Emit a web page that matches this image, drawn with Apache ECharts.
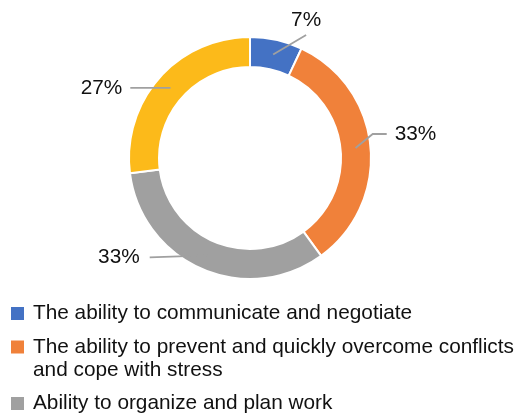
<!DOCTYPE html>
<html>
<head>
<meta charset="utf-8">
<script src="https://cdn.jsdelivr.net/npm/echarts@6/dist/echarts.min.js"></script>
<style>
html,body{margin:0;padding:0;background:#fff;}
#chart{width:518px;height:415px;}
</style>
</head>
<body>
<div id="chart"></div>
<script>
// ---- data ----
const categories = [
  'The ability to communicate and negotiate',
  'The ability to prevent and quickly overcome conflicts and cope with stress',
  'Ability to organize and plan work',
  'Other'
];
const values = [7, 33, 33, 27];
const legendNames = categories.slice(0, 3); // 4th legend entry is cropped out of view

// ---- style ----
const colors = ['#4472C4', '#F0813A', '#A0A0A0', '#FCBA1A'];
// label placement: offset from the slice anchor (mid-angle, mid-ring) to the label centre
const labelVec = [[33, -34], [60, -14], [-89, 2], [-69, 0]];
const FONT = 'Liberation Sans, Arial, sans-serif';
const FS = 20.8;
const LH = 23;

function wrap(text, maxChars) {
  const words = text.split(' ');
  const lines = [];
  let cur = '';
  words.forEach(w => {
    const t = cur ? cur + ' ' + w : w;
    if (t.length > maxChars && cur) { lines.push(cur); cur = w; } else { cur = t; }
  });
  if (cur) lines.push(cur);
  return lines;
}

const rich = {
  g: { width: 9, lineHeight: LH },
  s: { width: 22, lineHeight: LH },
  t: { fontSize: FS, fontFamily: FONT, color: '#111', lineHeight: LH }
};
colors.forEach((c, i) => {
  rich['m' + i] = { width: 13, height: 13, backgroundColor: c, lineHeight: LH };
});

function layoutLabel(p) {
  const i = p.dataIndex;
  const a = p.labelLinePoints[0];
  const w = p.labelRect.width, h = p.labelRect.height;
  const cx = a[0] + labelVec[i][0], cy = a[1] + labelVec[i][1];
  let pts;
  if (i === 0) {
    pts = [a, [cx, cy + h / 2 + 4]];
  } else if (i === 1) {
    const ex = cx - w / 2 - 8;
    pts = [a, [ex - 14, cy], [ex, cy]];
  } else {
    const ex = cx + w / 2 + (i === 2 ? 10 : 8);
    pts = [a, [ex, cy]];
  }
  return { x: cx, y: cy, align: 'center', verticalAlign: 'middle', labelLinePoints: pts };
}

const chart = echarts.init(document.getElementById('chart'), null, { renderer: 'canvas' });
chart.setOption({
  animation: false,
  color: colors,
  legend: {
    orient: 'vertical',
    left: 5,
    top: 303,
    padding: 0,
    itemGap: 12.5,
    itemWidth: 0,
    itemHeight: 14,
    icon: 'rect',
    itemStyle: { opacity: 0 },
    selectedMode: false,
    data: legendNames,
    formatter: function (name) {
      const i = categories.indexOf(name);
      return wrap(name, 55).map((l, k) =>
        (k === 0 ? '{m' + i + '|}{g|}' : '{s|}') + '{t|' + l + '}'
      ).join('\n');
    },
    textStyle: { fontSize: FS, fontFamily: FONT, color: '#111', rich: rich }
  },
  series: [
    {
      type: 'pie',
      center: [250, 158],
      radius: [91, 121],
      startAngle: 90,
      clockwise: true,
      silent: true,
      z: 2,
      label: { show: false },
      labelLine: { show: false },
      itemStyle: { borderColor: '#fff', borderWidth: 2 },
      data: values.map((v, i) => ({ name: categories[i], value: v }))
    },
    {
      type: 'pie',
      center: [250, 158],
      radius: [0, 106],
      startAngle: 90,
      clockwise: true,
      silent: true,
      z: 5,
      avoidLabelOverlap: false,
      itemStyle: { color: 'rgba(0,0,0,0)' },
      label: {
        show: true,
        position: 'outside',
        formatter: '{c}%',
        fontSize: FS,
        fontFamily: FONT,
        color: '#111'
      },
      labelLine: {
        show: true,
        length: 10,
        length2: 10,
        lineStyle: { color: '#A0A0A0', width: 1.8 }
      },
      labelLayout: layoutLabel,
      data: values.map((v, i) => ({ name: 'lbl' + i, value: v }))
    }
  ]
});
</script>
</body>
</html>
